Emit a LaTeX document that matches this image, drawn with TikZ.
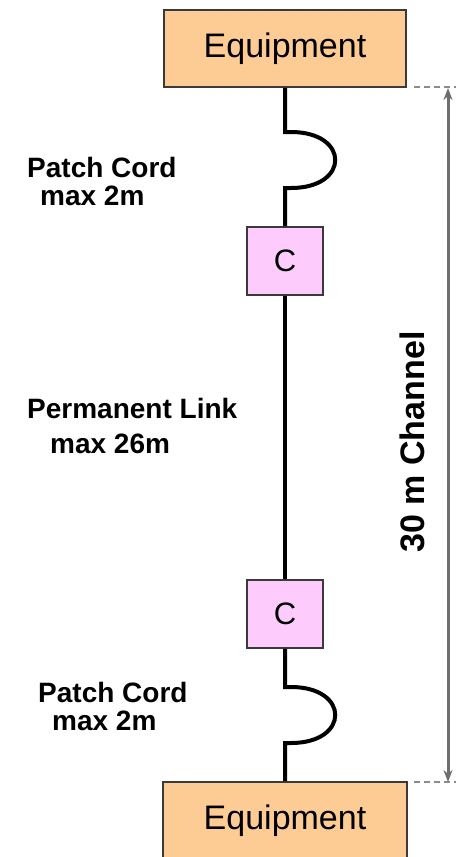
\documentclass[tikz,border=0pt]{standalone}
\usepackage{fontspec}
\setmainfont{Liberation Sans}
\usetikzlibrary{arrows.meta}
\definecolor{equipfill}{HTML}{FDCB94}
\definecolor{confill}{HTML}{FDCCFD}
\definecolor{edge}{HTML}{3A3A3A}
\definecolor{dimgrey}{HTML}{6E6E6E}
\tikzset{
  equipbox/.style={draw=edge, line width=1.6pt, fill=equipfill, minimum width=242pt, minimum height=77pt, inner sep=0pt, font=\fontsize{34}{40}\selectfont},
  conbox/.style={draw=edge, line width=1.6pt, fill=confill, minimum width=76pt, minimum height=68pt, inner sep=0pt, font=\fontsize{31}{36}\selectfont},
  cable/.style={line width=4pt, black},
  lbl/.style={anchor=base west, inner sep=0pt, font=\bfseries\fontsize{28}{32}\selectfont},
  dimline/.style={line width=3pt, dimgrey},
  guide/.style={line width=1.6pt, dimgrey!80, dash pattern=on 6pt off 4pt}
}
\begin{document}
\begin{tikzpicture}[x=1pt,y=-1pt]
\useasboundingbox (0,0) rectangle (458,857);
\node[equipbox] (eq1) at (285,48.5) {Equipment};
\node[equipbox, minimum width=244pt, minimum height=78pt] (eq2) at (285,821) {Equipment};
\node[conbox] (c1) at (285,261) {C};
\node[conbox] (c2) at (285,614) {C};
% top patch cord
\coordinate (a1) at (285,132);
\coordinate (a2) at (285,188);
\draw[cable] (eq1.south) -- (a1) -- ++(6,0) .. controls (350,132) and (350,188) .. (291,188) -- (a2) -- (c1.north);
% permanent link
\draw[cable] (c1.south) -- (c2.north);
% bottom patch cord
\coordinate (b1) at (285,687);
\coordinate (b2) at (285,743);
\draw[cable] (c2.south) -- (b1) -- ++(6,0) .. controls (350,687) and (350,743) .. (291,743) -- (b2) -- (eq2.north);
% labels
\node[lbl] (l1) at (27,177) {Patch Cord};
\node[lbl] (l2) at (40,205) {max 2m};
\node[lbl] (l3) at (27,418) {Permanent Link};
\node[lbl] (l4) at (50,453) {max 26m};
\node[lbl] (l5) at (38,702) {Patch Cord};
\node[lbl] (l6) at (52,730) {max 2m};
% dimension
\coordinate (d1s) at (414,87);
\coordinate (d1e) at (456,87);
\coordinate (d2s) at (414,782);
\coordinate (d2e) at (456,782);
\draw[guide] (d1s) -- (d1e);
\draw[guide] (d2s) -- (d2e);
\coordinate (t1) at (448,88);
\coordinate (t2) at (448,782);
\draw[dimline, {Stealth[length=12pt,width=9pt]}-{Stealth[length=12pt,width=9pt]}] (t1) -- (t2);
\node[rotate=90, inner sep=0pt, font=\bfseries\fontsize{34}{40}\selectfont] (ch) at (412,442) {30 m Channel};
\end{tikzpicture}
\end{document}
